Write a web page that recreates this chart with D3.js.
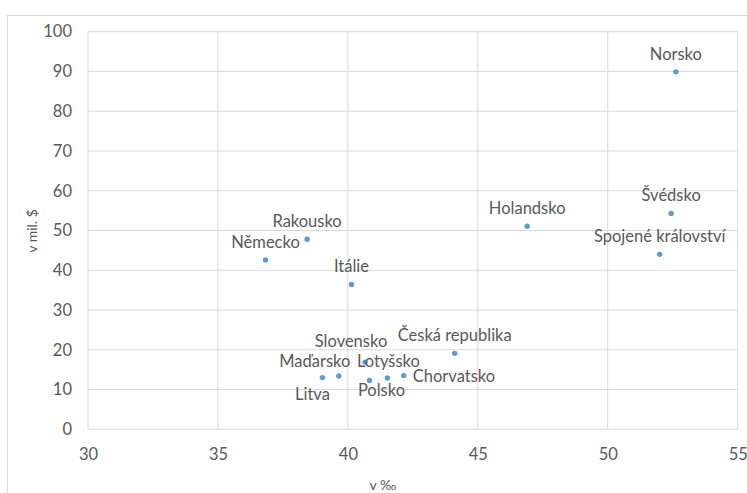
<!DOCTYPE html>
<html>
<head>
<meta charset="utf-8">
<script src="https://cdn.jsdelivr.net/npm/d3@7"></script>
<style>
  body { margin: 0; background: #fff; }
  text { font-family: Lato, "Open Sans", sans-serif; fill: #595959; }
</style>
</head>
<body>
<div id="chart"></div>
<script>
// data
var countries = ["Norsko", "Švédsko", "Spojené království", "Holandsko", "Česká republika",
                 "Rakousko", "Německo", "Itálie", "Slovensko", "Maďarsko", "Lotyšsko",
                 "Chorvatsko", "Litva", "Polsko"];
var xValues = [52.62, 52.44, 52.0, 46.9, 44.11, 38.43, 36.83, 40.14, 40.66, 39.65, 41.52, 42.15, 39.02, 40.83];
var yValues = [89.9, 54.3, 44.0, 51.1, 19.1, 47.8, 42.6, 36.4, 16.9, 13.4, 12.9, 13.5, 13.0, 12.3];
var xTicks = [30, 35, 40, 45, 50, 55];
var yTicks = [0, 10, 20, 30, 40, 50, 60, 70, 80, 90, 100];

var w = 747, h = 493;
var plotL = 88, plotR = 737.7, plotT = 31.7, plotB = 429.3;

// where each label sits next to its dot (dx, dy from the dot, anchor)
var labelPos = {
  "Slovensko": [-14, -21, "middle"],
  "Maďarsko": [-24, -15, "middle"],
  "Lotyšsko": [1, -17, "middle"],
  "Chorvatsko": [9, 1, "start"],
  "Litva": [-10, 17, "middle"],
  "Polsko": [12, 10, "middle"]
};

var data = countries.map(function (c, i) {
  return {name: c, x: xValues[i], y: yValues[i]};
});

var svg = d3.select("#chart").append("svg")
    .attr("width", w)
    .attr("height", h);

// chart border
svg.append("rect")
    .attr("x", 7.5).attr("y", 15.5)
    .attr("width", 760).attr("height", 500)
    .attr("fill", "none")
    .attr("stroke", "#d9d9d9");

var x = d3.scaleLinear().domain([30, 55]).range([plotL, plotR]);
var y = d3.scaleLinear().domain([0, 100]).range([plotB, plotT]);

// gridlines
svg.append("g").selectAll("line")
    .data(yTicks).enter().append("line")
    .attr("x1", plotL).attr("x2", plotR)
    .attr("y1", function (d) { return y(d); })
    .attr("y2", function (d) { return y(d); })
    .attr("stroke", "#d9d9d9");

svg.append("g").selectAll("line")
    .data(xTicks).enter().append("line")
    .attr("y1", plotT).attr("y2", plotB)
    .attr("x1", function (d) { return x(d); })
    .attr("x2", function (d) { return x(d); })
    .attr("stroke", "#d9d9d9");

// axes (labels only)
var xAxis = svg.append("g")
    .attr("transform", "translate(0," + plotB + ")")
    .call(d3.axisBottom(x).tickValues(xTicks).tickSize(0).tickPadding(19));
var yAxis = svg.append("g")
    .attr("transform", "translate(" + (plotL - 16) + ",0)")
    .call(d3.axisLeft(y).tickValues(yTicks).tickSize(0).tickPadding(0));
[xAxis, yAxis].forEach(function (a) {
  a.select(".domain").remove();
  a.selectAll("text").attr("font-size", 16.5).style("font-family", "Lato, sans-serif").attr("fill", "#505050");
});

// axis titles
svg.append("text")
    .attr("x", 383).attr("y", 490)
    .attr("text-anchor", "middle")
    .attr("font-size", 14)
    .text("v ‰");
svg.append("text")
    .attr("transform", "translate(37,231) rotate(-90)")
    .attr("text-anchor", "middle")
    .attr("font-size", 14)
    .text("v mil. $");

// points
svg.append("g").selectAll("circle")
    .data(data).enter().append("circle")
    .attr("cx", function (d) { return x(d.x); })
    .attr("cy", function (d) { return y(d.y); })
    .attr("r", 2.7)
    .attr("fill", "#5b9bd5");

// labels
svg.append("g").selectAll("text")
    .data(data).enter().append("text")
    .attr("x", function (d) {
      var p = labelPos[d.name];
      return x(d.x) + (p ? p[0] : 0);
    })
    .attr("y", function (d) {
      var p = labelPos[d.name];
      return y(d.y) + (p ? p[1] : -18);
    })
    .attr("dy", "0.35em")
    .attr("text-anchor", function (d) {
      var p = labelPos[d.name];
      return p ? p[2] : "middle";
    })
    .attr("font-size", 16.5)
    .attr("fill", "#3a3a3a")
    .text(function (d) { return d.name; });
</script>
</body>
</html>
